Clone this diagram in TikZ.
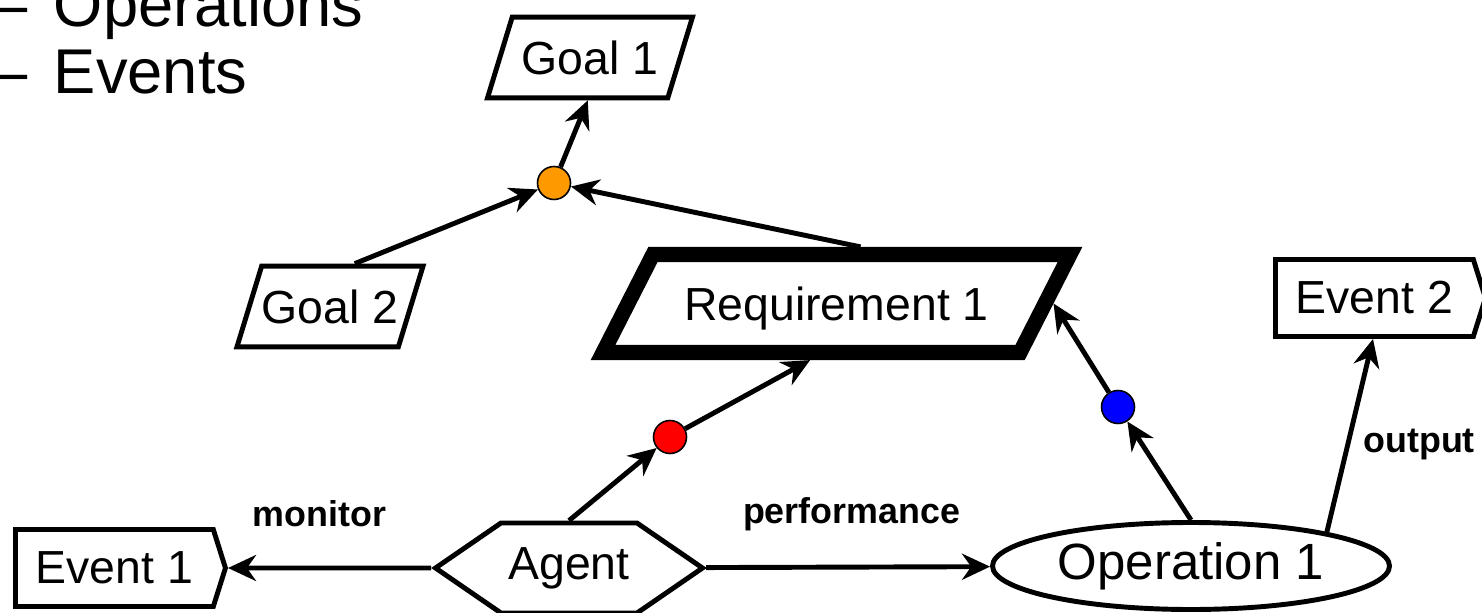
\documentclass[tikz,border=0pt]{standalone}
\usepackage{fontspec}
\setmainfont{Liberation Sans}
\usetikzlibrary{arrows.meta, shapes.geometric, shapes.symbols}
\definecolor{andOrange}{HTML}{FF9900}
\definecolor{andRed}{HTML}{FF0000}
\definecolor{andBlue}{HTML}{0000FF}

\begin{document}
\begin{tikzpicture}[line width=1.4pt,>={Stealth[length=0.28cm,width=0.26cm]}]
  \tikzstyle{every node}=[font=\fontsize{13.2}{15}\selectfont]
  \tikzstyle{goal}=[draw, trapezium, trapezium left angle=73, trapezium right angle=107,
                    trapezium stretches body, inner xsep=0pt, inner ysep=6.75pt,
                    text height=9.5pt, text depth=0pt]
  \tikzstyle{event}=[draw, signal, signal to=east, signal pointer angle=145, inner sep=0pt,
                     minimum width=2.1cm, minimum height=0.77cm, anchor=west]
  \tikzstyle{andnode}=[draw, circle, line width=0.45pt, inner sep=0pt, minimum size=0.33cm]
  \tikzstyle{lbl}=[font=\fontsize{10.2}{12}\selectfont\bfseries, inner sep=0pt]
  \tikzstyle{bullet}=[font=\fontsize{18}{21}\selectfont, inner sep=0pt, anchor=base west]

  \useasboundingbox (0,0) rectangle (14.82,6.12);

  \node[bullet] (ops) at (-0.10,5.85) {–\hspace{7.5pt}Operations};
  \node[bullet] (evs) at (-0.10,5.18) {–\hspace{7.5pt}Events};

  \node[goal, minimum width=2.05cm] (goal1) at (5.90,5.545) {Goal 1};
  \node[goal, minimum width=1.80cm] (goal2) at (3.30,3.055) {Goal 2};
  \node[goal, line width=4.3pt, trapezium left angle=63, trapezium right angle=117,
        inner ysep=9.2pt, minimum width=4.67cm] (req) at (8.365,3.085) {Requirement 1};
  \node[event] (e1) at (0.13,0.44)  {Event 1};
  \node[event] (e2) at (12.73,3.14) {Event 2};
  \node[draw, signal, signal to=east and west, signal pointer angle=69, inner sep=0pt,
        minimum width=2.67cm, minimum height=0.9cm] (agent) at (5.69,0.44) {Agent};
  \node[draw, ellipse, inner sep=0pt, minimum width=3.97cm, minimum height=0.87cm,
        font=\fontsize{14.5}{17}\selectfont] (op) at (11.91,0.46) {Operation 1};

  \node[andnode, fill=andOrange] (and1) at (5.54,4.29)  {};
  \node[andnode, fill=andRed]    (and2) at (6.70,1.75)  {};
  \node[andnode, fill=andBlue]   (and3) at (11.18,2.05) {};

  \path[->]
  (agent)       edge node[lbl, anchor=base, xshift=-0.1cm, yshift=0.42cm]  {monitor}     (e1)
  (agent)       edge node[lbl, anchor=base, xshift=0.035cm, yshift=0.44cm] {performance} (op)
  (agent.north) edge (and2)
  (and2)        edge (req.245)
  (op.north)    edge (and3)
  (and3)        edge (req.east)
  (op.14)       edge node[lbl, anchor=base west, xshift=0.11cm, yshift=-0.17cm] {output} (e2.268)
  (goal2.60)    edge (and1)
  (req.67)      edge (and1)
  (and1)        edge (goal1.267)
  ;
\end{tikzpicture}
\end{document}
